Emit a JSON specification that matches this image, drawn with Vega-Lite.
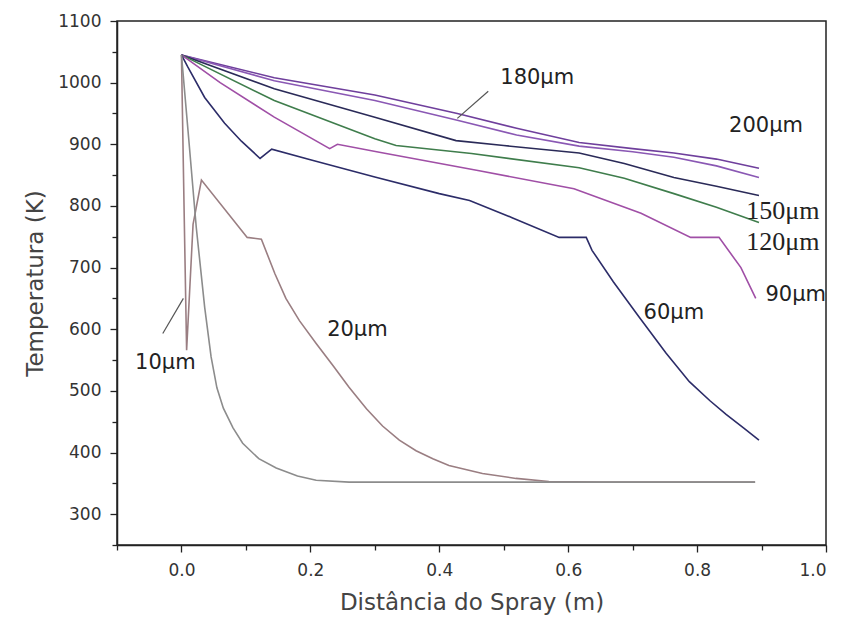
{
  "$schema": "https://vega.github.io/schema/vega-lite/v6.json",
  "width": 709,
  "height": 524,
  "autosize": {"type": "none"},
  "padding": {"left": 117, "top": 21, "right": 27, "bottom": 78},
  "background": "white",
  "config": {
    "view": {"stroke": "#222", "strokeWidth": 1.5},
    "font": "DejaVu Sans"
  },
  "resolve": {"axis": {"x": "independent", "y": "independent"}},
  "datasets": {
    "curves": [
      {"series": "200", "d": 0, "T": 1045}, {"series": "200", "d": 0.144, "T": 1008}, {"series": "200", "d": 0.3, "T": 980}, {"series": "200", "d": 0.428, "T": 950}, {"series": "200", "d": 0.52, "T": 926}, {"series": "200", "d": 0.617, "T": 903}, {"series": "200", "d": 0.7, "T": 893}, {"series": "200", "d": 0.764, "T": 886}, {"series": "200", "d": 0.83, "T": 876}, {"series": "200", "d": 0.896, "T": 861},
      {"series": "180", "d": 0, "T": 1045}, {"series": "180", "d": 0.144, "T": 1003}, {"series": "180", "d": 0.3, "T": 971}, {"series": "180", "d": 0.428, "T": 939}, {"series": "180", "d": 0.52, "T": 915}, {"series": "180", "d": 0.617, "T": 897}, {"series": "180", "d": 0.7, "T": 888}, {"series": "180", "d": 0.764, "T": 879}, {"series": "180", "d": 0.83, "T": 865}, {"series": "180", "d": 0.896, "T": 846},
      {"series": "150", "d": 0, "T": 1045}, {"series": "150", "d": 0.144, "T": 990}, {"series": "150", "d": 0.3, "T": 944}, {"series": "150", "d": 0.426, "T": 906}, {"series": "150", "d": 0.5, "T": 898}, {"series": "150", "d": 0.617, "T": 886}, {"series": "150", "d": 0.687, "T": 869}, {"series": "150", "d": 0.764, "T": 846}, {"series": "150", "d": 0.83, "T": 832}, {"series": "150", "d": 0.896, "T": 817},
      {"series": "120", "d": 0, "T": 1045}, {"series": "120", "d": 0.144, "T": 971}, {"series": "120", "d": 0.3, "T": 909}, {"series": "120", "d": 0.333, "T": 898}, {"series": "120", "d": 0.45, "T": 885}, {"series": "120", "d": 0.617, "T": 862}, {"series": "120", "d": 0.687, "T": 845}, {"series": "120", "d": 0.764, "T": 820}, {"series": "120", "d": 0.83, "T": 798}, {"series": "120", "d": 0.896, "T": 773},
      {"series": "90", "d": 0, "T": 1045}, {"series": "90", "d": 0.06, "T": 1000}, {"series": "90", "d": 0.144, "T": 944}, {"series": "90", "d": 0.23, "T": 893}, {"series": "90", "d": 0.242, "T": 900}, {"series": "90", "d": 0.307, "T": 887}, {"series": "90", "d": 0.462, "T": 857}, {"series": "90", "d": 0.609, "T": 828}, {"series": "90", "d": 0.713, "T": 788}, {"series": "90", "d": 0.79, "T": 749}, {"series": "90", "d": 0.834, "T": 749}, {"series": "90", "d": 0.868, "T": 700}, {"series": "90", "d": 0.891, "T": 650},
      {"series": "60", "d": 0, "T": 1045}, {"series": "60", "d": 0.01, "T": 1025}, {"series": "60", "d": 0.036, "T": 976}, {"series": "60", "d": 0.067, "T": 934}, {"series": "60", "d": 0.093, "T": 905}, {"series": "60", "d": 0.122, "T": 877}, {"series": "60", "d": 0.14, "T": 892}, {"series": "60", "d": 0.2, "T": 875}, {"series": "60", "d": 0.3, "T": 847}, {"series": "60", "d": 0.4, "T": 820}, {"series": "60", "d": 0.447, "T": 809}, {"series": "60", "d": 0.513, "T": 781}, {"series": "60", "d": 0.586, "T": 749}, {"series": "60", "d": 0.628, "T": 749}, {"series": "60", "d": 0.637, "T": 728}, {"series": "60", "d": 0.67, "T": 677}, {"series": "60", "d": 0.71, "T": 620}, {"series": "60", "d": 0.752, "T": 561}, {"series": "60", "d": 0.788, "T": 515}, {"series": "60", "d": 0.82, "T": 484}, {"series": "60", "d": 0.845, "T": 462}, {"series": "60", "d": 0.872, "T": 440}, {"series": "60", "d": 0.896, "T": 420},
      {"series": "20", "d": 0, "T": 1045}, {"series": "20", "d": 0.004, "T": 800}, {"series": "20", "d": 0.008, "T": 566}, {"series": "20", "d": 0.018, "T": 770}, {"series": "20", "d": 0.031, "T": 842}, {"series": "20", "d": 0.102, "T": 749}, {"series": "20", "d": 0.124, "T": 746}, {"series": "20", "d": 0.145, "T": 690}, {"series": "20", "d": 0.162, "T": 650}, {"series": "20", "d": 0.183, "T": 614}, {"series": "20", "d": 0.209, "T": 577}, {"series": "20", "d": 0.235, "T": 541}, {"series": "20", "d": 0.26, "T": 506}, {"series": "20", "d": 0.287, "T": 471}, {"series": "20", "d": 0.312, "T": 443}, {"series": "20", "d": 0.338, "T": 420}, {"series": "20", "d": 0.364, "T": 403}, {"series": "20", "d": 0.39, "T": 390}, {"series": "20", "d": 0.415, "T": 379}, {"series": "20", "d": 0.467, "T": 366}, {"series": "20", "d": 0.519, "T": 358}, {"series": "20", "d": 0.57, "T": 353}, {"series": "20", "d": 0.65, "T": 352}, {"series": "20", "d": 0.89, "T": 352},
      {"series": "10", "d": 0, "T": 1045}, {"series": "10", "d": 0.012, "T": 900}, {"series": "10", "d": 0.023, "T": 765}, {"series": "10", "d": 0.036, "T": 636}, {"series": "10", "d": 0.046, "T": 555}, {"series": "10", "d": 0.055, "T": 505}, {"series": "10", "d": 0.065, "T": 472}, {"series": "10", "d": 0.08, "T": 440}, {"series": "10", "d": 0.095, "T": 415}, {"series": "10", "d": 0.12, "T": 390}, {"series": "10", "d": 0.147, "T": 375}, {"series": "10", "d": 0.18, "T": 362}, {"series": "10", "d": 0.209, "T": 355}, {"series": "10", "d": 0.26, "T": 352}, {"series": "10", "d": 0.35, "T": 352}, {"series": "10", "d": 0.89, "T": 352}
    ],
    "sansLabels": [
      {"label": "180μm", "d": 0.552, "T": 1008},
      {"label": "200μm", "d": 0.907, "T": 930},
      {"label": "90μm", "d": 0.953, "T": 655},
      {"label": "60μm", "d": 0.764, "T": 626},
      {"label": "20μm", "d": 0.273, "T": 598},
      {"label": "10μm", "d": -0.025, "T": 545}
    ],
    "serifLabels": [
      {"label": "150μm", "d": 0.933, "T": 791},
      {"label": "120μm", "d": 0.933, "T": 742}
    ],
    "leaders": [
      {"d": 0.476, "T": 986, "d2": 0.428, "T2": 942},
      {"d": -0.029, "T": 593, "d2": 0.003, "T2": 650}
    ]
  },
  "layer": [
    {
      "data": {"name": "curves"},
      "mark": {"type": "line", "strokeWidth": 1.6, "clip": true},
      "encoding": {
        "x": {
          "field": "d", "type": "quantitative",
          "scale": {"domain": [-0.1, 1.0], "nice": false, "zero": false},
          "axis": {
            "orient": "bottom",
            "title": "Distância do Spray (m)",
            "values": [0, 0.2, 0.4, 0.6, 0.8, 1.0],
            "format": ".1f",
            "labelOverlap": false,
            "grid": false,
            "domainColor": "#222", "domainWidth": 1.5,
            "tickColor": "#222", "tickWidth": 1.3, "tickSize": 7,
            "labelFont": "DejaVu Sans", "labelFontSize": 17, "labelColor": "#333", "labelPadding": 10,
            "titleFont": "DejaVu Sans", "titleFontSize": 23, "titleFontWeight": "normal", "titleColor": "#444", "titlePadding": 13
          }
        },
        "y": {
          "field": "T", "type": "quantitative",
          "scale": {"domain": [250, 1100], "nice": false, "zero": false},
          "axis": {
            "orient": "left",
            "title": "Temperatura (K)",
            "values": [300, 400, 500, 600, 700, 800, 900, 1000, 1100],
            "format": "d",
            "labelOverlap": false,
            "grid": false,
            "domainColor": "#222", "domainWidth": 1.5,
            "tickColor": "#222", "tickWidth": 1.3, "tickSize": 7,
            "labelFont": "DejaVu Sans", "labelFontSize": 17, "labelColor": "#333", "labelPadding": 9,
            "titleFont": "DejaVu Sans", "titleFontSize": 23, "titleFontWeight": "normal", "titleColor": "#444", "titlePadding": 10
          }
        },
        "color": {
          "field": "series", "type": "nominal",
          "scale": {
            "domain": ["10", "20", "60", "90", "120", "150", "180", "200"],
            "range": ["#8c8c8c", "#9a7e82", "#2c2c68", "#a04fa6", "#3f7d4c", "#2a2a58", "#8a58b4", "#6f3f9c"]
          },
          "legend": null
        }
      }
    },
    {
      "data": {"name": "leaders"},
      "mark": {"type": "rule", "color": "#555", "strokeWidth": 1.2},
      "encoding": {
        "x": {
          "field": "d", "type": "quantitative",
          "axis": {"orient": "bottom", "values": [-0.1, 0.1, 0.3, 0.5, 0.7, 0.9], "labels": false, "title": null, "domain": false, "grid": false, "tickColor": "#222", "tickWidth": 1.3, "tickSize": 5}
        },
        "y": {
          "field": "T", "type": "quantitative",
          "axis": {"orient": "left", "values": [250, 350, 450, 550, 650, 750, 850, 950, 1050], "labels": false, "title": null, "domain": false, "grid": false, "tickColor": "#222", "tickWidth": 1.3, "tickSize": 5}
        },
        "x2": {"field": "d2"},
        "y2": {"field": "T2"}
      }
    },
    {
      "data": {"name": "sansLabels"},
      "mark": {"type": "text", "font": "DejaVu Sans", "fontSize": 21, "color": "#222", "align": "center", "baseline": "middle"},
      "encoding": {
        "x": {"field": "d", "type": "quantitative", "axis": null},
        "y": {"field": "T", "type": "quantitative", "axis": null},
        "text": {"field": "label"}
      }
    },
    {
      "data": {"name": "serifLabels"},
      "mark": {"type": "text", "font": "Liberation Serif", "fontSize": 26, "color": "#222", "align": "center", "baseline": "middle"},
      "encoding": {
        "x": {"field": "d", "type": "quantitative", "axis": null},
        "y": {"field": "T", "type": "quantitative", "axis": null},
        "text": {"field": "label"}
      }
    }
  ]
}
